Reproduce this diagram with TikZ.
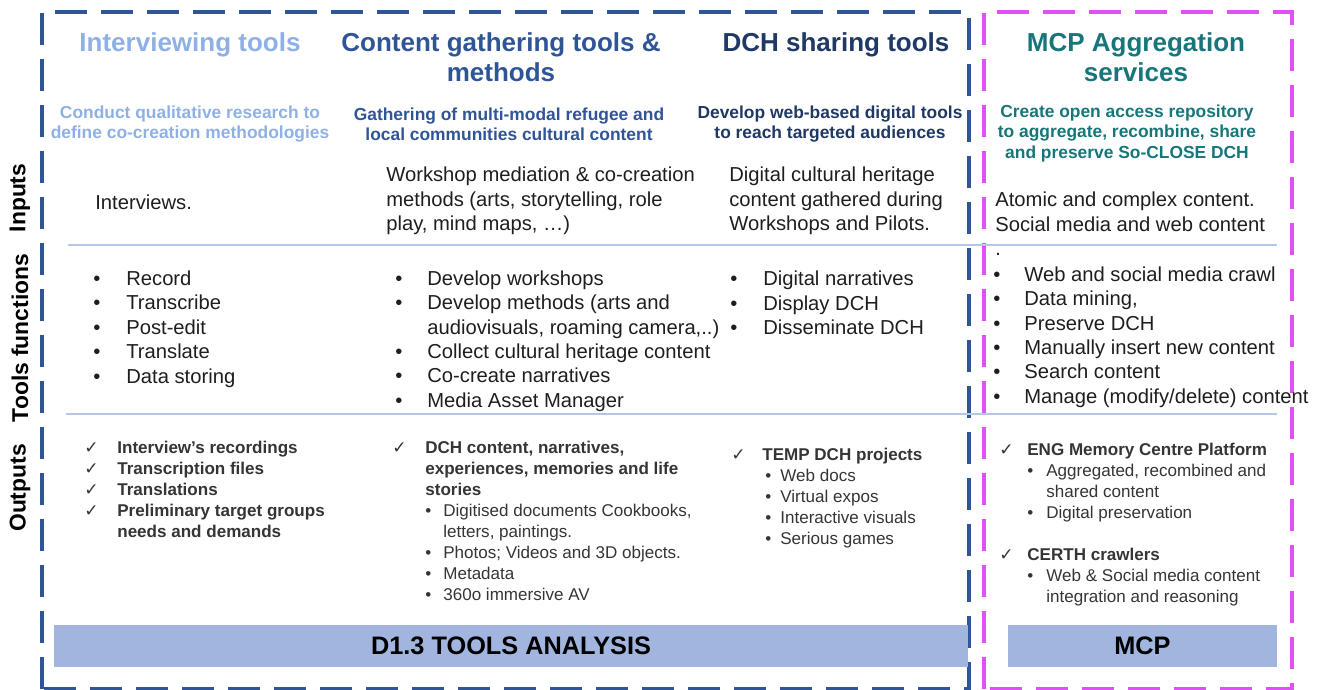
\documentclass[tikz,border=0pt]{standalone}
\usepackage{fontspec}
\setmainfont{Liberation Sans}
\newfontfamily\symb{DejaVu Sans}
\usepackage{xcolor}
\definecolor{bleuclair}{RGB}{142,176,228}
\definecolor{bleu}{RGB}{47,85,151}
\definecolor{marine}{RGB}{32,56,100}
\definecolor{sarcelle}{RGB}{22,118,122}
\definecolor{rose}{RGB}{224,80,248}
\definecolor{trait}{RGB}{180,199,231}
\definecolor{fond}{RGB}{161,181,223}
\definecolor{texte}{RGB}{30,30,30}
\newcommand{\itm}[2][0.66cm]{\makebox[#1][l]{\textbullet}#2}
\newcommand{\coche}[2][0.66cm]{\makebox[#1][l]{\symb ✓}\textbf{#2}}
\newcommand{\sous}[3]{\hspace*{#1}\makebox[#2][l]{\textbullet}#3}

\begin{document}
\begin{tikzpicture}
\par
\tikzstyle{tirets}=[line width=2pt, dash pattern=on 0.64cm off 0.28cm]
\tikzstyle{sep}=[draw=trait, line width=1.1pt]
\tikzstyle{cote}=[rotate=90, text=black, font=\bfseries\fontsize{13}{15}\selectfont]
\tikzstyle{titre}=[align=center, font=\bfseries\fontsize{14.8}{17.1}\selectfont]
\tikzstyle{soustitre}=[align=center, font=\bfseries\fontsize{9.9}{11.4}\selectfont]
\tikzstyle{corps}=[anchor=west, inner sep=0pt, align=left, text=texte, font=\fontsize{11.5}{13.9}\selectfont]
\tikzstyle{sortie}=[anchor=west, inner sep=0pt, align=left, text=texte!90, font=\fontsize{9.7}{11.95}\selectfont]
\tikzstyle{barre}=[fill=fond, minimum height=0.84cm, text=black, font=\bfseries\fontsize{14.4}{17}\selectfont]
\useasboundingbox (0,0) rectangle (26.46,13.8);
\par
\draw[tirets, draw=bleu] (0.84,0.02) rectangle (19.38,13.56);
\draw[tirets, draw=rose] (19.68,0.02) rectangle (25.84,13.56);
\draw[sep] (1.36,8.9) -- (25.54,8.9);
\draw[sep] (1.32,5.52) -- (25.54,5.52);
\par
\node[cote] (entrees) at (0.4,9.84) {Inputs};
\node[cote] (fonctions) at (0.4,7.04) {Tools functions};
\node[cote] (sorties) at (0.4,4.04) {Outputs};
\par
\node[titre, text=bleuclair] (t1) at (3.8,12.9) {Interviewing tools};
\node[titre, text=bleu] (t2) at (10.02,12.66) {Content gathering tools \&\\methods};
\node[titre, text=marine] (t3) at (16.72,12.9) {DCH sharing tools};
\node[titre, text=sarcelle] (t4) at (22.72,12.65) {MCP Aggregation\\services};
\par
\node[soustitre, text=bleuclair] (s1) at (3.8,11.32) {Conduct qualitative research to\\define co-creation methodologies};
\node[soustitre, text=bleu] (s2) at (10.18,11.32) {Gathering of multi-modal refugee and\\local communities cultural content};
\node[soustitre, text=marine] (s3) at (16.6,11.32) {Develop web-based digital tools\\to reach targeted audiences};
\node[soustitre, text=sarcelle] (s4) at (22.54,11.13) {Create open access repository\\to aggregate, recombine, share\\and preserve So-CLOSE DCH};
\par
\node[corps] (e1) at (1.9,9.76) {Interviews.};
\node[corps] (e2) at (7.72,9.78) {Workshop mediation \& co-creation\\methods (arts, storytelling, role\\play, mind maps, \ldots)};
\node[corps] (e3) at (14.58,9.78) {Digital cultural heritage\\content gathered during\\Workshops and Pilots.};
\node[corps] (e4) at (19.9,9.32) {Atomic and complex content.\\Social media and web content\\.};
\par
\node[corps] (f1) at (1.86,7.22) {\itm{Record}\\\itm{Transcribe}\\\itm{Post-edit}\\\itm{Translate}\\\itm{Data storing}};
\node[corps] (f2) at (7.9,6.98) {\itm[0.64cm]{Develop workshops}\\\itm[0.64cm]{Develop methods (arts and}\\\hspace*{0.64cm}audiovisuals, roaming camera,..)\\\itm[0.64cm]{Collect cultural heritage content}\\\itm[0.64cm]{Co-create narratives}\\\itm[0.64cm]{Media Asset Manager}};
\node[corps] (f3) at (14.6,7.74) {\itm{Digital narratives}\\\itm{Display DCH}\\\itm{Disseminate DCH}};
\node[corps] (f4) at (19.86,7.06) {\itm[0.62cm]{Web and social media crawl}\\\itm[0.62cm]{Data mining,}\\\itm[0.62cm]{Preserve DCH}\\\itm[0.62cm]{Manually insert new content}\\\itm[0.62cm]{Search content}\\\itm[0.62cm]{Manage (modify/delete) content}};
\par
\node[sortie] (o1) at (1.68,4.02) {\coche{Interview’s recordings}\\\coche{Transcription files}\\\coche{Translations}\\\coche{Preliminary target groups}\\\hspace*{0.66cm}\textbf{needs and demands}};
\node[sortie] (o2) at (7.84,3.39) {\coche{DCH content, narratives,}\\\hspace*{0.66cm}\textbf{experiences, memories and life}\\\hspace*{0.66cm}\textbf{stories}\\\sous{0.66cm}{0.36cm}{Digitised documents Cookbooks,}\\\hspace*{1.02cm}letters, paintings.\\\sous{0.66cm}{0.36cm}{Photos; Videos and 3D objects.}\\\sous{0.66cm}{0.36cm}{Metadata}\\\sous{0.66cm}{0.36cm}{360o immersive AV}};
\node[sortie] (o3) at (14.62,3.84) {\coche[0.62cm]{TEMP DCH projects}\\\sous{0.68cm}{0.30cm}{Web docs}\\\sous{0.68cm}{0.30cm}{Virtual expos}\\\sous{0.68cm}{0.30cm}{Interactive visuals}\\\sous{0.68cm}{0.30cm}{Serious games}};
\node[sortie] (o4) at (19.98,3.31) {\coche[0.56cm]{ENG Memory Centre Platform}\\\sous{0.56cm}{0.38cm}{Aggregated, recombined and}\\\hspace*{0.94cm}shared content\\\sous{0.56cm}{0.38cm}{Digital preservation}\\\mbox{}\\\coche[0.56cm]{CERTH crawlers}\\\sous{0.56cm}{0.38cm}{Web \& Social media content}\\\hspace*{0.94cm}integration and reasoning};
\par
\node[barre, minimum width=18.28cm] (analyse) at (10.22,0.88) {D1.3 TOOLS ANALYSIS};
\node[barre, minimum width=5.38cm] (mcp) at (22.85,0.88) {MCP};
\par
\end{tikzpicture}
\end{document}
